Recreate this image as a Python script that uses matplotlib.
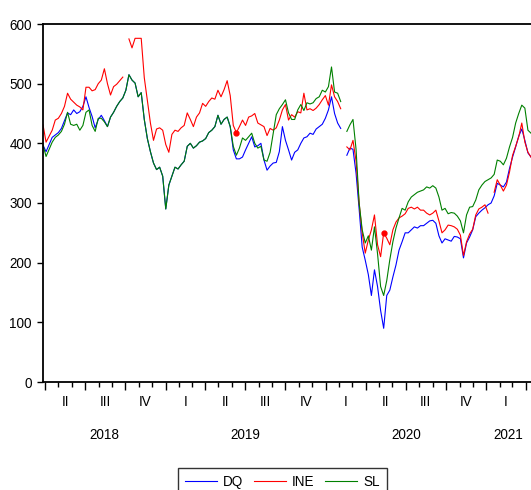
import numpy as np
import pandas as pd
import matplotlib
matplotlib.use('Agg')
import matplotlib.pyplot as plt
import matplotlib.dates as mdates
from matplotlib.ticker import NullFormatter

plt.rcParams['font.family'] = ['Liberation Sans', 'DejaVu Sans']
plt.rcParams['font.size'] = 9.75

nan = np.nan

# weekly observations, last week of March 2018 to mid April 2021
dates = pd.date_range('2018-03-27', periods=160, freq='7D')

dq = [397, 386, 398, 410, 414, 418, 425, 438, 451, 448,
      456, 450, 453, 462, 478, 460, 445, 426, 440, 447,
      438, 428, 444, 452, 462, 470, 476, 489, 515, 506,
      501, 478, 485, 440, 408, 386, 367, 356, 360, 345,
      290, 330, 345, 360, 357, 364, 370, 395, 400, 392,
      396, 402, 404, 408, 418, 422, 428, 447, 432, 440,
      444, 428, 389, 374, 374, 377, 389, 400, 411, 394,
      396, 400, 372, 355, 362, 367, 368, 386, 428, 405,
      389, 372, 385, 389, 400, 409, 411, 417, 415, 424,
      428, 432, 442, 456, 478, 450, 434, 425, nan, 380,
      392, 390, 350, 290, 226, 204, 180, 145, 188, 160,
      120, 90, 145, 154, 176, 196, 221, 235, 250, 250,
      255, 260, 258, 262, 262, 266, 270, 271, 266, 245,
      233, 240, 238, 236, 244, 243, 240, 208, 233, 243,
      255, 277, 283, 288, 292, 297, 300, 312, 333, 330,
      327, 335, 358, 377, 394, 412, 424, 405, 384, 377]

ine = [431, 402, 412, 422, 439, 442, 450, 462, 484, 474,
       469, 464, 461, 456, 494, 494, 488, 490, 500, 506,
       525, 500, 481, 495, 499, 505, 511, nan, 575, 560,
       576, 576, 576, 510, 472, 434, 405, 424, 426, 422,
       398, 385, 415, 422, 420, 426, 430, 451, 440, 428,
       444, 451, 467, 462, 470, 476, 474, 489, 478, 490,
       505, 480, 430, 418, 428, 439, 430, 444, 446, 450,
       434, 431, 428, 413, 425, 422, 426, 439, 456, 465,
       439, 448, 444, 453, 451, 484, 456, 458, 455, 459,
       465, 473, 480, 464, 498, 478, 470, 458, nan, 394,
       389, 405, 370, 300, 250, 216, 238, 255, 280, 230,
       210, 250, 241, 230, 255, 268, 275, 278, 282, 291,
       293, 290, 293, 288, 288, 283, 280, 283, 288, 270,
       250, 255, 263, 262, 260, 256, 246, 212, 235, 248,
       256, 280, 290, 293, 297, 283, nan, 318, 339, 330,
       320, 330, 352, 380, 395, 411, 434, 402, 385, 377]

sl = [397, 378, 390, 402, 410, 414, 420, 432, 452, 432,
      430, 432, 422, 430, 452, 456, 430, 420, 442, 442,
      436, 428, 444, 452, 462, 470, 476, 489, 515, 506,
      501, 478, 485, 440, 408, 386, 367, 356, 360, 345,
      290, 330, 345, 360, 357, 364, 370, 395, 400, 392,
      396, 402, 404, 408, 418, 422, 428, 447, 432, 440,
      444, 428, 395, 380, 392, 409, 405, 411, 417, 400,
      392, 395, 372, 370, 385, 417, 448, 458, 465, 473,
      451, 440, 440, 456, 465, 455, 468, 466, 468, 475,
      478, 489, 486, 495, 528, 486, 484, 470, nan, 420,
      431, 440, 390, 300, 255, 233, 245, 221, 260, 215,
      160, 145, 170, 205, 235, 258, 275, 291, 288, 302,
      310, 314, 318, 320, 322, 327, 325, 329, 325, 310,
      288, 291, 282, 284, 283, 278, 270, 250, 280, 293,
      294, 305, 322, 330, 336, 339, 342, 348, 372, 370,
      364, 375, 394, 410, 434, 450, 464, 459, 422, 417]

# single INE observations standing between holiday gaps
ine_dots = [63, 111]

roman = ['I', 'II', 'III', 'IV']

fig = plt.figure(figsize=(5.31, 4.90), dpi=100)
ax = fig.add_axes([43/531, 108/490, 488/531, 358/490])

ax.plot(dates, dq, color='#0000ff', lw=0.8, label='DQ')
ax.plot(dates, ine, color='#ff0000', lw=0.8, label='INE')
ax.plot(dates, sl, color='#008000', lw=0.8, label='SL')
ax.plot(dates[ine_dots], np.array(ine)[ine_dots], 'o', color='#ff0000', ms=3.5)

ax.set_ylim(0, 600)
ax.set_yticks(range(0, 601, 100))
ax.set_xlim(dates[0], dates[-1])
ax.xaxis.set_major_locator(mdates.MonthLocator(bymonth=[1, 4, 7, 10]))
ax.xaxis.set_minor_locator(mdates.MonthLocator())
ax.xaxis.set_major_formatter(NullFormatter())
ax.tick_params(axis='x', which='major', length=6, width=1, direction='out')
ax.tick_params(axis='x', which='minor', length=3.5, width=1, direction='out')
ax.tick_params(axis='y', length=4, width=1, pad=4)
for s in ['left', 'top', 'bottom']:
    ax.spines[s].set_linewidth(1.3)
ax.spines['right'].set_visible(False)

# quarter numerals under the axis, years on a second row
start, end = dates[0], dates[-1]
for qs in pd.date_range('2018-01-01', '2021-06-30', freq='QS'):
    qe = qs + pd.offsets.QuarterBegin(startingMonth=1)
    mid = qs + (qe - qs) / 2
    if start <= mid <= end:
        ax.annotate(roman[qs.quarter - 1], xy=(mdates.date2num(mid), 0),
                    xycoords=('data', 'axes fraction'), xytext=(0, -14.4),
                    textcoords='offset points', ha='center', va='center')

for yr in range(2018, 2022):
    a = max(pd.Timestamp(f'{yr}-01-01'), start)
    b = min(pd.Timestamp(f'{yr + 1}-01-01'), end)
    mid = a + (b - a) / 2
    ax.annotate(str(yr), xy=(mdates.date2num(mid), 0),
                xycoords=('data', 'axes fraction'), xytext=(0, -38),
                textcoords='offset points', ha='center', va='center')

leg = fig.legend(loc='upper center', bbox_to_anchor=(282.5/531, 1 - 468/490),
                 ncol=3, frameon=True, fancybox=False, edgecolor='black',
                 borderaxespad=0, handlelength=2.35, handletextpad=0.45,
                 columnspacing=0.8, borderpad=0.5)
leg.get_frame().set_linewidth(1.0)

fig.savefig('out.png', dpi=100)
